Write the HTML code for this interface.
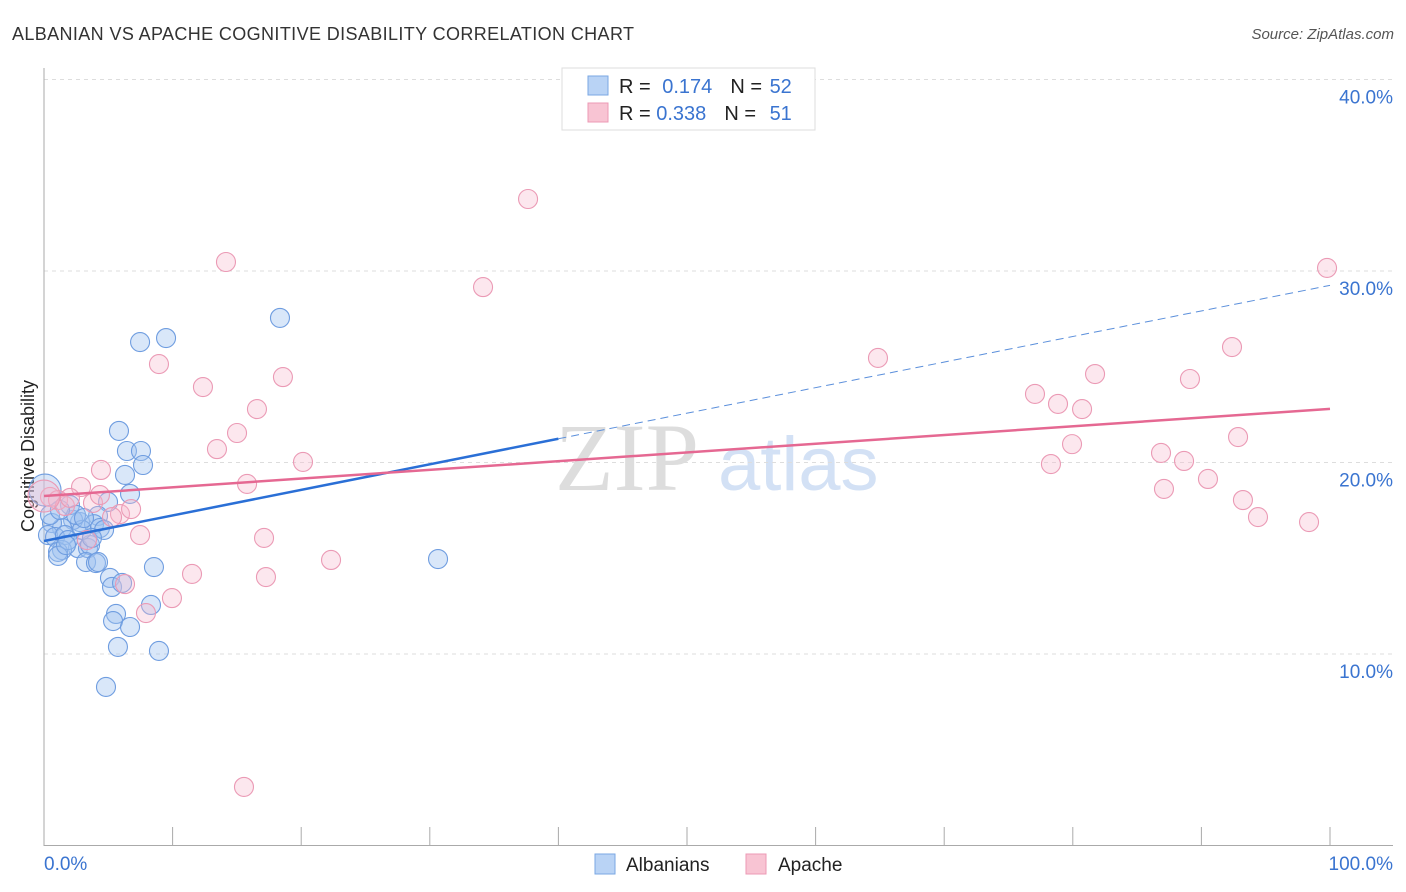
<!DOCTYPE html>
<html><head><meta charset="utf-8"><style>
body{margin:0;background:#fff;font-family:"Liberation Sans",sans-serif;}
svg{display:block}
</style></head><body>
<svg id="c" width="1406" height="892">
<text x="12" y="40" font-size="18" fill="#333" textLength="622">ALBANIAN VS APACHE COGNITIVE DISABILITY CORRELATION CHART</text>
<text x="1394" y="39" font-size="15" fill="#555" font-style="italic" text-anchor="end">Source: ZipAtlas.com</text>
<text x="34" y="456" font-size="18" fill="#222" transform="rotate(-90 34 456)" text-anchor="middle">Cognitive Disability</text>
<text x="555" y="490" font-size="96" fill="#ddd" font-family="Liberation Serif,serif">ZIP</text>
<text x="718" y="490" font-size="76" fill="#d3e1f5">atlas</text>
<g id="grid"></g><g id="pts"></g><g id="lines"></g>
<g>
<rect x="562" y="68" width="253" height="62" fill="#fff" stroke="#ddd"/>
<rect x="588" y="76" width="20" height="19" fill="#b9d3f5" stroke="#7aa7e3"/>
<rect x="588" y="103" width="20" height="19" fill="#f8c4d3" stroke="#ec9ab4"/>
<text x="619" y="93" font-size="20" fill="#222">R = <tspan fill="#3a74d0" dx="6">0.174</tspan><tspan fill="#222" dx="18">N = </tspan><tspan fill="#3a74d0" dx="2">52</tspan></text>
<text x="619" y="120" font-size="20" fill="#222">R = <tspan fill="#3a74d0">0.338</tspan><tspan fill="#222" dx="18">N = </tspan><tspan fill="#3a74d0" dx="8">51</tspan></text>
</g>
<g>
<rect x="595" y="854" width="20" height="20" fill="#b9d3f5" stroke="#7aa7e3"/>
<text x="626" y="871" font-size="19" fill="#222">Albanians</text>
<rect x="746" y="854" width="20" height="20" fill="#f8c4d3" stroke="#ec9ab4"/>
<text x="778" y="871" font-size="19" fill="#222">Apache</text>
</g>
<text x="44" y="870" font-size="19" fill="#3a74d0">0.0%</text>
<text x="1393" y="870" font-size="19" fill="#3a74d0" text-anchor="end">100.0%</text>
</svg>
<script>
const yTicks=[10,20,30,40];
const yTickLabels=["10.0%","20.0%","30.0%","40.0%"];
const blueX=[5.83,6.45,7.54,7.70,6.30,6.69,4.98,4.20,2.80,2.26,3.89,1.40,0.62,0.31,0.86,1.63,2.64,3.42,3.58,1.40,1.09,1.09,3.27,4.04,4.20,5.13,5.29,6.07,8.55,5.60,5.37,6.69,8.32,5.75,8.94,4.82,7.47,9.49,18.35,30.64,2.02,2.95,4.35,0.47,1.87,2.49,4.67,3.73,1.24,3.11,1.71,0.08];
const blueY=[21.65,20.60,20.60,19.87,19.35,18.36,17.94,17.21,16.89,17.0,16.78,16.58,16.84,16.21,16.11,16.21,15.53,15.53,15.69,15.43,15.33,15.12,14.80,14.75,14.80,13.97,13.50,13.71,14.54,12.09,11.72,11.41,12.56,10.37,10.16,8.28,26.29,26.50,27.55,14.96,17.78,16.48,16.58,17.26,15.95,17.26,16.48,16.06,17.52,17.10,15.69,18.56];
const pinkX=[37.64,14.15,34.14,99.77,8.94,12.36,18.58,16.56,15.01,13.45,20.14,15.79,4.43,2.88,0.47,1.09,1.63,3.81,5.91,6.77,7.47,17.11,11.51,17.26,22.32,9.95,7.93,6.30,15.55,64.85,77.06,78.85,80.72,81.73,79.94,78.30,86.86,89.11,92.38,92.85,88.65,87.09,90.51,93.23,94.40,98.37,0,5.29,4.35,2.02,3.34];
const pinkY=[33.76,30.47,29.16,30.16,25.14,23.94,24.46,22.79,21.54,20.70,20.03,18.88,19.61,18.72,18.20,18.04,17.73,17.89,17.31,17.57,16.21,16.06,14.18,14.02,14.91,12.92,12.14,13.65,3.06,25.46,23.58,23.06,22.79,24.62,20.96,19.92,20.50,24.36,26.03,21.33,20.08,18.62,19.14,18.04,17.15,16.89,18.25,17.15,18.30,18.15,15.95];
const blueTrend=[15.9,29.25];
const pinkTrend=[18.25,22.8];
const X=v=>44+v*12.86, Y=v=>845.5-v*19.15;
const NS="http://www.w3.org/2000/svg";
function mk(t,a,p){const e=document.createElementNS(NS,t);for(const k in a)e.setAttribute(k,a[k]);p.appendChild(e);return e;}
const g=document.getElementById('grid');
yTicks.forEach((t,i)=>{
 const l=mk('line',{x1:44,x2:1393,y1:Y(t),y2:Y(t),stroke:'#ddd','stroke-dasharray':'4,4'},g);
 
 
 const tx=mk('text',{x:1393,y:Y(t)+24,'font-size':19,fill:'#3a74d0','text-anchor':'end'},g);
 tx.textContent=yTickLabels[i];
 
 
});
mk('line',{x1:44,x2:44,y1:68,y2:846,stroke:'#aaa'},g);
mk('line',{x1:44,x2:1393,y1:845.5,y2:845.5,stroke:'#aaa'},g);
for(let i=0;i<=10;i++){const t=mk('line',{x1:X(i*10),x2:X(i*10),y1:827,y2:845,stroke:'#aaa'},g);
 
 }
const p=document.getElementById('pts');
blueX.forEach((x,i)=>{const c=mk('circle',{cx:X(x),cy:Y(blueY[i]),r:i==blueX.length-1?16:9.5,fill:'rgba(160,195,240,0.4)',stroke:'#6f9de0','stroke-width':1.1},p);
 
 });
pinkX.forEach((x,i)=>{const c=mk('circle',{cx:X(x),cy:Y(pinkY[i]),r:i==46?16:9.5,fill:'rgba(247,185,205,0.35)',stroke:'#eb9ab5','stroke-width':1.1},p);
 
 });
const L=document.getElementById('lines');
const bm=blueTrend[0]+(blueTrend[1]-blueTrend[0])*0.4;
const b1=mk('line',{x1:X(0),y1:Y(blueTrend[0]),x2:X(40),y2:Y(bm),stroke:'#2a6fd6','stroke-width':2.5},L);


const b2=mk('line',{x1:X(40),y1:Y(bm),x2:X(100),y2:Y(blueTrend[1]),stroke:'#5b8fdb','stroke-width':1,'stroke-dasharray':'8,5'},L);


const pl=mk('line',{x1:X(0),y1:Y(pinkTrend[0]),x2:X(100),y2:Y(pinkTrend[1]),stroke:'#e56892','stroke-width':2.5},L);


</script>
</body></html>
